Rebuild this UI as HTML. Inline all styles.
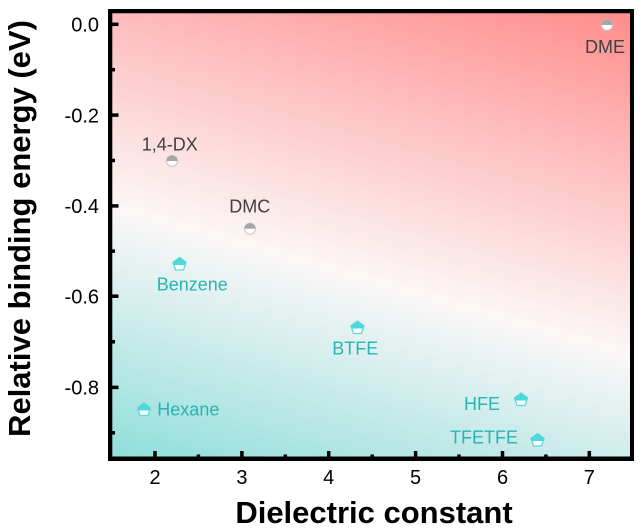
<!DOCTYPE html>
<html><head><meta charset="utf-8"><style>
html,body{margin:0;padding:0;background:#fff;}
body{position:relative;width:640px;height:530px;overflow:hidden;}
svg{display:block;position:absolute;left:0;top:0;}
text{font-family:"Liberation Sans",Arial,sans-serif;}
#frame{position:absolute;left:108px;top:9px;width:518px;height:444px;border:4px solid #000;pointer-events:none;}
</style></head><body>
<svg width="640" height="530" viewBox="0 0 640 530" xmlns="http://www.w3.org/2000/svg">
<defs>
<linearGradient id="bg" gradientUnits="userSpaceOnUse" x1="110" y1="458" x2="268.3" y2="-93.3">
<stop offset="0" stop-color="#8fdedb"/>
<stop offset="0.422" stop-color="#fcf7f7"/>
<stop offset="1" stop-color="#ff8c8c"/>
</linearGradient>
<g id="pent">
<polygon points="0,-6.8 6.47,-2.1 4,5.5 -4,5.5 -6.47,-2.1" fill="#ffffff" stroke="#5cd9d9" stroke-width="1.3"/>
<polygon points="0,-6.8 6.47,-2.1 5.8,0 -5.8,0 -6.47,-2.1" fill="#4fd8d8" stroke="#4fd8d8" stroke-width="1"/>
</g>
<g id="circ">
<circle r="5.5" fill="#ffffff" stroke="#c6c6c6" stroke-width="1"/>
<path d="M-5.5,0 A5.5,5.5 0 0 1 5.5,0 Z" fill="#a6a6a6"/>
</g>
</defs>
<rect x="110.3" y="11.3" width="521.7" height="447.2" fill="url(#bg)"/>
<!-- ticks -->
<g stroke="#000" stroke-width="3.5">
<line x1="155" y1="458.5" x2="155" y2="451"/>
<line x1="241.9" y1="458.5" x2="241.9" y2="451"/>
<line x1="328.7" y1="458.5" x2="328.7" y2="451"/>
<line x1="415.6" y1="458.5" x2="415.6" y2="451"/>
<line x1="502.5" y1="458.5" x2="502.5" y2="451"/>
<line x1="589.3" y1="458.5" x2="589.3" y2="451"/>
<line x1="198.4" y1="458.5" x2="198.4" y2="454.5"/>
<line x1="285.3" y1="458.5" x2="285.3" y2="454.5"/>
<line x1="372.2" y1="458.5" x2="372.2" y2="454.5"/>
<line x1="459" y1="458.5" x2="459" y2="454.5"/>
<line x1="545.9" y1="458.5" x2="545.9" y2="454.5"/>
<line x1="110.3" y1="24.3" x2="118.5" y2="24.3"/>
<line x1="110.3" y1="115.1" x2="118.5" y2="115.1"/>
<line x1="110.3" y1="205.9" x2="118.5" y2="205.9"/>
<line x1="110.3" y1="296.2" x2="118.5" y2="296.2"/>
<line x1="110.3" y1="387.4" x2="118.5" y2="387.4"/>
<line x1="110.3" y1="69.7" x2="115" y2="69.7"/>
<line x1="110.3" y1="160.5" x2="115" y2="160.5"/>
<line x1="110.3" y1="251.1" x2="115" y2="251.1"/>
<line x1="110.3" y1="341.8" x2="115" y2="341.8"/>
<line x1="110.3" y1="432.8" x2="115" y2="432.8"/>
</g>
<!-- frame -->
<g stroke="#000" stroke-width="4" stroke-linecap="square">
<line x1="110.3" y1="11.3" x2="632" y2="11.3"/>
<line x1="632" y1="11.3" x2="632" y2="458.5"/>
<line x1="110.3" y1="458.5" x2="632" y2="458.5"/>
<line x1="110.3" y1="11.3" x2="110.3" y2="458.5"/>
</g>
<!-- tick labels -->
<g font-size="20" fill="#000" text-anchor="end">
<text x="99" y="31.5">0.0</text>
<text x="99" y="122.3">-0.2</text>
<text x="99" y="213">-0.4</text>
<text x="99" y="303.3">-0.6</text>
<text x="99" y="394.5">-0.8</text>
</g>
<g font-size="20" fill="#000" text-anchor="middle">
<text x="155" y="484">2</text>
<text x="241.9" y="484">3</text>
<text x="328.7" y="484">4</text>
<text x="415.6" y="484">5</text>
<text x="502.5" y="484">6</text>
<text x="589.3" y="484">7</text>
</g>
<!-- titles -->
<text x="374" y="523" font-size="31" font-weight="bold" text-anchor="middle" fill="#000">Dielectric constant</text>
<text transform="translate(30,228.5) rotate(-90)" font-size="31" font-weight="bold" text-anchor="middle" fill="#000">Relative binding energy (eV)</text>
<!-- markers -->
<use href="#circ" x="607" y="25"/>
<use href="#circ" x="172" y="161"/>
<use href="#circ" x="250" y="228.7"/>
<use href="#pent" x="179.5" y="264.5"/>
<use href="#pent" x="357.5" y="328"/>
<use href="#pent" x="521" y="400"/>
<use href="#pent" x="537.5" y="440.5"/>
<use href="#pent" x="144" y="410"/>
<!-- labels -->
<g font-size="18" fill="#404040">
<text x="585" y="53">DME</text>
<text x="141.7" y="150.5">1,4-DX</text>
<text x="229.3" y="212.3">DMC</text>
</g>
<g font-size="18" fill="#27b4b4">
<text x="156.7" y="290.7">Benzene</text>
<text x="157.3" y="415.7">Hexane</text>
<text x="332.3" y="354.3">BTFE</text>
<text x="464" y="410">HFE</text>
<text x="450" y="443.3">TFETFE</text>
</g>
</svg>
<div id="frame"></div>
</body></html>
